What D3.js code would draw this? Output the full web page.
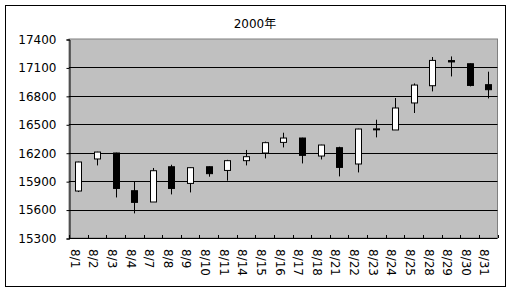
<!DOCTYPE html>
<html><head><meta charset="utf-8">
<script src="https://cdn.jsdelivr.net/npm/d3@7"></script>
<style>body{margin:0;background:#fff}svg{display:block}</style>
</head><body>
<script>
const categories = ["8/1","8/2","8/3","8/4","8/7","8/8","8/9","8/10","8/11","8/14","8/15","8/16","8/17","8/18","8/21","8/22","8/23","8/24","8/25","8/28","8/29","8/30","8/31"];
const openVals  = [15796,16134,16197,15799,15680,16052,15876,16052,16013,16116,16197,16309,16355,16165,16253,16081,16447,16440,16725,16907,17172,17139,16918];
const highVals  = [16105,16210,16200,15901,16039,16073,16045,16055,16125,16229,16317,16411,16358,16284,16263,16453,16548,16777,16931,17210,17216,17142,17055];
const lowVals   = [15785,16066,15728,15560,15680,15760,15781,15947,15905,16066,16140,16256,16087,16129,15950,15992,16362,16440,16619,16847,17005,16900,16773];
const closeVals = [16102,16207,15823,15676,16010,15823,16042,15979,16116,16158,16306,16355,16172,16281,16045,16450,16452,16672,16914,17174,17158,16910,16865];
const yTicks = [15300,15600,15900,16200,16500,16800,17100,17400];
const title = "2000年";

const W = 512, H = 291;
const L = 69, R = 497.5, T = 39, B = 238;
const font = "'DejaVu Sans','Noto Sans CJK JP',sans-serif";

const svg = d3.select("body").append("svg").attr("width", W).attr("height", H);

svg.append("rect").attr("x",5.5).attr("y",5.5).attr("width",500).attr("height",281)
  .attr("fill","#fff").attr("stroke","#000").attr("stroke-width",1);

const x = d3.scaleBand().domain(categories).range([L, R]).padding(0);
const y = d3.scaleLinear().domain([15300,17400]).range([B, T]);

svg.append("rect").attr("x",L).attr("y",T).attr("width",R-L).attr("height",B-T)
  .attr("fill","#c0c0c0").attr("stroke","#808080").attr("stroke-width",1);

// gridlines
svg.append("g").selectAll("line").data(yTicks.slice(1,-1)).join("line")
  .attr("x1",L).attr("x2",R)
  .attr("y1",d=>Math.round(y(d))+0.5).attr("y2",d=>Math.round(y(d))+0.5)
  .attr("stroke","#000").attr("stroke-width",1);

// y axis
const yAxis = d3.axisLeft(y).tickValues(yTicks).tickSize(3).tickPadding(10).tickFormat(d3.format("d"));
const gy = svg.append("g").attr("transform",`translate(${L+0.5},0.5)`).call(yAxis);
gy.select(".domain").attr("stroke","#000");
gy.selectAll(".tick line").attr("stroke","#000");
gy.selectAll("text").attr("font-family",font).attr("font-size",12).attr("fill","#000");

// x axis
const bounds = d3.range(categories.length+1).map(i => L + i*x.bandwidth());
svg.append("line").attr("x1",L).attr("x2",R).attr("y1",B+0.5).attr("y2",B+0.5).attr("stroke","#000");
svg.append("g").selectAll("line").data(bounds).join("line")
  .attr("x1",d=>Math.round(d)+0.5).attr("x2",d=>Math.round(d)+0.5)
  .attr("y1",B).attr("y2",B-3).attr("stroke","#000");
svg.append("g").selectAll("text").data(categories).join("text")
  .attr("transform",d=>`translate(${x(d)+x.bandwidth()/2-3.5},${249}) rotate(90)`)
  .attr("dy","0.35em")
  .attr("font-family",font).attr("font-size",12).attr("fill","#000")
  .text(d=>d);

// candles
const data = categories.map((c,i)=>({c, o:openVals[i], h:highVals[i], l:lowVals[i], cl:closeVals[i]}));
const bw = 5;
const g = svg.append("g");
data.forEach(d=>{
  const cx = Math.round(x(d.c)+x.bandwidth()/2)+0.5;
  g.append("line").attr("x1",cx).attr("x2",cx).attr("y1",y(d.h)).attr("y2",y(d.l))
    .attr("stroke","#000").attr("stroke-width",1);
  const top = y(Math.max(d.o,d.cl)), bot = y(Math.min(d.o,d.cl));
  g.append("rect").attr("x",cx-bw/2-0.5).attr("y",top).attr("width",bw+1).attr("height",Math.max(1,bot-top))
    .attr("fill", d.cl>=d.o ? "#fff" : "#000").attr("stroke","#000").attr("stroke-width",1);
});

svg.append("text").attr("x",255).attr("y",24).attr("dy","0.35em").attr("text-anchor","middle")
  .attr("font-family",font).attr("font-size",12).attr("fill","#000").text(title);
</script>
</body></html>
